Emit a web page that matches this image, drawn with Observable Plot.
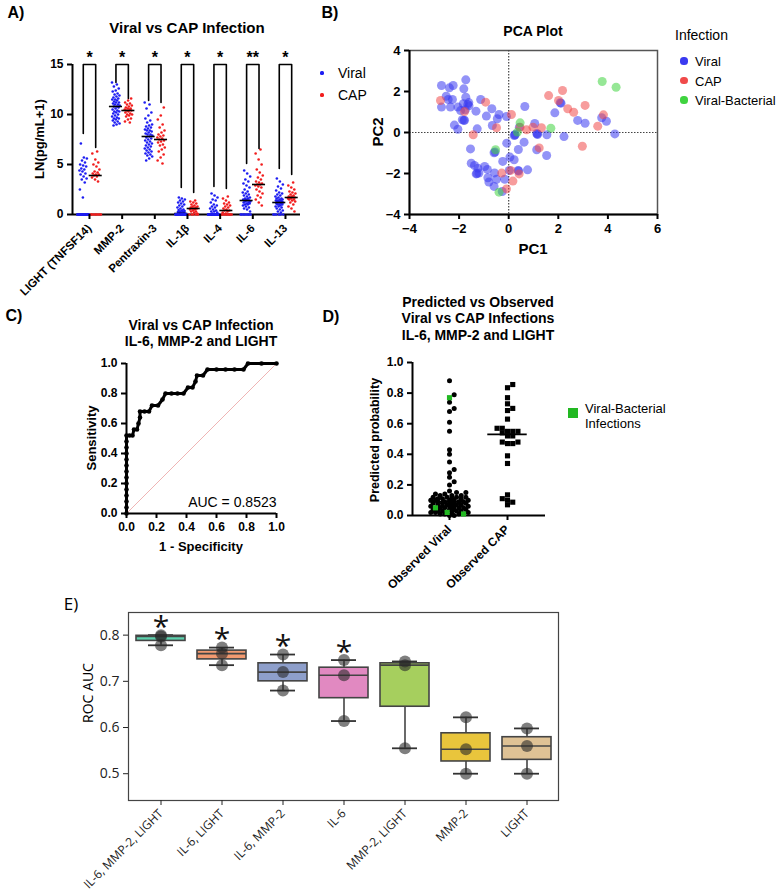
<!DOCTYPE html>
<html><head><meta charset="utf-8">
<script src="https://cdn.jsdelivr.net/npm/d3@7"></script>
<script src="https://cdn.jsdelivr.net/npm/@observablehq/plot@0.6"></script>
<style>
html,body{margin:0;padding:0;background:#fff;}
body{width:779px;height:894px;position:relative;overflow:hidden;font-family:"Liberation Sans",Arial,sans-serif;}
.box{position:absolute;}
.box svg{overflow:visible;}
.t{position:absolute;white-space:nowrap;color:#000;line-height:1;}
</style></head><body>
<script>
// ---------- Panel A data ----------
const cytokines = ["LIGHT (TNFSF14)","MMP-2","Pentraxin-3","IL-1β","IL-4","IL-6","IL-13"];
const viral_LIGHT = [0,0,0,0,0,0,0,0,0,0,0,0,0,0,0,0,0,0,0,0,0,0,0,0,0,1.7,2.5,3.2,3.5,3.6,3.8,4.0,4.1,4.3,4.4,4.5,4.6,4.8,4.9,5.0,5.2,5.4,5.6,5.7,7.1];
const cap_LIGHT = [0,0,0,0,0,0,0,0,3.3,3.5,3.7,3.8,3.9,4.0,4.0,4.1,4.2,4.3,4.5,4.8,5.0,5.2,5.5,6.1,6.3];
const viral_MMP2 = [13.2,13.0,12.8,12.6,12.4,12.3,12.1,12.0,11.9,11.8,11.7,11.6,11.5,11.5,11.4,11.3,11.2,11.2,11.1,11.0,11.0,10.9,10.8,10.8,10.7,10.6,10.5,10.4,10.3,10.3,10.2,10.1,10.0,9.9,9.8,9.7,9.6,9.6,9.5,9.4,9.3,9.2,9.1,9.0,8.9];
const cap_MMP2 = [11.6,11.4,11.2,11.1,11.0,10.9,10.8,10.7,10.6,10.6,10.5,10.5,10.4,10.4,10.3,10.2,10.1,10.0,10.0,9.9,9.8,9.6,9.5,9.3,9.2];
const viral_PTX3 = [11.2,11.0,10.6,10.2,9.9,9.6,9.4,9.2,9.0,8.9,8.8,8.7,8.6,8.5,8.4,8.4,8.3,8.2,8.1,8.0,8.0,7.9,7.8,7.7,7.6,7.5,7.4,7.3,7.2,7.1,7.0,6.9,6.8,6.7,6.6,6.5,6.4,6.3,6.2,6.1,6.0,5.9,5.8,5.6,5.4];
const cap_PTX3 = [10.7,9.9,9.5,9.0,8.7,8.4,8.2,8.0,7.9,7.8,7.7,7.6,7.5,7.4,7.3,7.2,7.0,6.9,6.7,6.5,6.3,6.0,5.7,5.4,5.1];
const viral_IL1B = [0,0,0,0,0,0,0,0,0,0,0,0,0,0,0,0,0,0,0,0,0.05,0.1,0.1,0.15,0.2,0.2,0.25,0.3,0.3,0.35,0.4,0.45,0.5,0.6,0.7,0.8,0.9,1.0,1.1,1.2,1.3,1.4,1.5,1.6,1.7];
const cap_IL1B = [0,0,0,0,0,0.1,0.2,0.3,0.3,0.4,0.5,0.5,0.6,0.6,0.6,0.7,0.7,0.8,0.8,0.9,1.0,1.1,1.2,1.3,1.4];
const viral_IL4 = [0,0,0,0,0,0,0,0,0,0,0,0,0,0,0,0,0,0,0,0,0,0,0,0,0,0,0,0,0.1,0.2,0.3,0.3,0.4,0.5,0.6,0.7,0.8,0.9,1.0,1.2,1.4,1.5,1.7,1.9,2.1];
const cap_IL4 = [0,0,0,0,0,0,0,0,0,0.1,0.2,0.3,0.4,0.4,0.5,0.6,0.7,0.8,0.9,1.0,1.1,1.2,1.4,1.6,1.8];
const viral_IL6 = [0,0,0,0,0,0,0,0,0.3,0.5,0.6,0.7,0.8,0.9,1.0,1.0,1.1,1.1,1.2,1.2,1.3,1.3,1.4,1.4,1.4,1.5,1.5,1.6,1.6,1.7,1.8,1.9,2.0,2.1,2.2,2.3,2.5,2.7,2.9,3.1,3.3,3.5,3.8,4.1,4.4];
const cap_IL6 = [0.9,1.2,1.5,1.7,1.9,2.1,2.3,2.5,2.7,2.8,2.9,3.0,3.0,3.1,3.2,3.3,3.5,3.7,3.9,4.2,4.5,5.0,5.5,6.1,6.5];
const viral_IL13 = [0,0,0,0,0,0,0.2,0.3,0.4,0.5,0.6,0.7,0.8,0.8,0.9,1.0,1.0,1.0,1.1,1.1,1.2,1.2,1.2,1.3,1.3,1.3,1.4,1.4,1.4,1.5,1.5,1.6,1.6,1.7,1.8,1.9,2.0,2.1,2.2,2.4,2.6,2.8,3.0,3.3,3.6];
const cap_IL13 = [0.3,0.6,0.8,1.0,1.2,1.3,1.4,1.5,1.5,1.6,1.6,1.7,1.7,1.7,1.8,1.8,1.9,2.0,2.1,2.2,2.3,2.5,2.7,2.9,3.2];
const bracketViralTop = [8.1,13.2,11.4,2.7,2.8,5.1,4.6];
const bracketCapTop = [6.7,11.6,11.2,2.2,2.6,6.6,4.0];
const sigA = ["*","*","*","*","*","**","*"];

// ---------- Panel B data ----------
const pcaViralX = [-2.71,-2.39,-2.24,-1.73,-1.81,-2.52,-2.44,-2.27,-1.73,-2.71,-2.35,-2.05,-1.83,-1.65,-1.61,-1.94,-1.75,-1.32,-1.13,-0.68,-0.39,-0.90,-0.46,-0.09,-2.19,-2.05,-1.87,-1.81,-1.27,-0.66,0.65,1.86,2.11,2.78,3.08,3.75,3.94,4.28,2.23,1.54,1.16,1.05,0.22,0.43,-1.54,-0.59,-0.08,0.05,0.22,0.39,0.62,1.13,1.53,-1.51,-1.38,-1.24,-0.97,-0.86,-1.31,-1.20,-0.57,-0.24,-0.84,-0.80,-0.59,-0.49,-0.16,-0.26,0.38,0.76,1.16,0.26,0.25,1.13,-1.28,0.40,-1.78,-0.55,0.02,-1.60,2.08];
const pcaViralY = [2.29,2.18,2.29,2.57,2.13,1.77,1.61,1.61,1.72,1.24,1.24,1.24,1.40,1.37,1.46,1.07,1.11,1.04,1.61,1.16,0.88,0.80,0.67,0.78,0.36,0.16,0.62,0.59,0.18,0.34,1.27,0.96,1.43,0.59,0.45,0.72,0.55,-0.07,-0.20,-0.11,-0.10,0.44,-0.15,0.26,-0.80,-0.99,-0.52,-1.20,-1.33,-0.83,-0.47,-0.84,-1.12,-1.50,-1.61,-1.74,-1.66,-1.80,-2.02,-1.98,-1.97,-1.41,-2.21,-2.42,-2.63,-2.28,-2.28,-2.88,-1.85,-1.82,-0.07,-0.10,-0.12,-0.05,-2.00,-1.88,0.60,-0.95,-1.85,1.30,1.45];
const pcaCapX = [-2.75,-1.78,-0.93,-0.49,-1.43,0.11,0.72,0.98,1.32,1.61,2.17,2.01,2.38,2.62,3.08,3.82,3.59,2.97,-0.28,0.08,0.17,-0.09,0.42,1.23,0.46];
const pcaCapY = [1.56,1.02,1.48,0.23,-0.11,0.88,0.13,0.26,0.23,1.80,2.05,1.56,1.16,0.99,1.32,0.86,0.31,-0.67,-1.98,-1.85,-2.37,-2.75,-2.02,-0.75,0.26];
const pcaVbX = [3.77,4.33,0.46,1.70,-0.53,-0.39,0.35];
const pcaVbY = [2.49,2.21,0.47,0.21,-0.84,-2.91,0.02];

// ---------- Panel C data ----------
const rocFpr = [0,0,0,0,0,0,0,0,0,0,0,0,0,0,0.02,0.04,0.05,0.07,0.08,0.09,0.09,0.12,0.15,0.17,0.21,0.24,0.26,0.30,0.34,0.38,0.41,0.44,0.46,0.47,0.51,0.54,0.60,0.66,0.72,0.78,0.81,0.90,1.0];
const rocTpr = [0,0.04,0.08,0.12,0.16,0.20,0.24,0.28,0.32,0.36,0.40,0.44,0.48,0.52,0.52,0.52,0.56,0.56,0.60,0.64,0.68,0.68,0.68,0.72,0.72,0.76,0.80,0.80,0.80,0.80,0.84,0.84,0.88,0.92,0.92,0.96,0.96,0.96,0.96,0.96,1.0,1.0,1.0];
const chanceX = [0,1];
const chanceY = [0,1];
const unitTicks = [0,0.2,0.4,0.6,0.8,1.0];
const aucLabel = "AUC = 0.8523";

// ---------- Panel D data ----------
const dGroups = ["Observed Viral","Observed CAP"];
const dViral = [0.88,0.79,0.74,0.70,0.68,0.61,0.55,0.43,0.40,0.35,0.30,0.28,0.25,0.22,0.20,0.16,0.15,0.15,
  0.14,0.14,0.13,0.13,0.13,0.12,0.12,0.12,0.12,0.11,0.11,0.11,0.11,0.10,0.10,0.10,0.10,0.10,0.09,0.09,0.09,0.09,0.09,
  0.08,0.08,0.08,0.08,0.08,0.07,0.07,0.07,0.07,0.07,0.06,0.06,0.06,0.06,0.06,0.05,0.05,0.05,0.05,0.05,0.04,0.04,0.04,0.04,
  0.03,0.03,0.03,0.03,0.02,0.02,0.02,0.02,0.01,0.01,0.01,0.00,0.00];
const dViralBacterial = [0.77,0.05,0.02,0.01];
const dCap = [0.856,0.835,0.77,0.73,0.70,0.686,0.63,0.57,0.57,0.55,0.55,0.55,0.54,0.52,0.52,0.48,0.48,0.47,0.47,0.39,0.34,0.135,0.11,0.10,0.087,0.07];
const probTicks = [0,0.2,0.4,0.6,0.8,1.0];

// ---------- Panel E data ----------
const combos = ["IL-6, MMP-2, LIGHT","IL-6, LIGHT","IL-6, MMP-2","IL-6","MMP-2, LIGHT","MMP-2","LIGHT"];
const aucRuns = [[0.800,0.797,0.778],[0.773,0.760,0.735],[0.758,0.720,0.680],[0.746,0.713,0.614],[0.743,0.735,0.555],[0.622,0.553,0.500],[0.598,0.560,0.500]];
const boxColors = ["#5dd0ad","#f39a70","#8e9fcb","#e189c1","#a6cf5e","#e9c53c","#dfc295"];
const sigE = ["*","*","*","*","","",""];
const aucTicks = [0.5,0.6,0.7,0.8];

// ---------- helpers ----------
const ARIAL = "'Liberation Sans', Arial, sans-serif";
const OPEN = "'Open Sans', 'DejaVu Sans', sans-serif";
function place(node, left, top){
  const d = document.createElement("div"); d.className = "box";
  d.style.left = left + "px"; d.style.top = top + "px";
  d.appendChild(node); document.body.appendChild(d); return d;
}
function txt(s, x, y, o = {}){
  const d = document.createElement("div"); d.className = "t"; d.textContent = s;
  d.style.left = x + "px"; d.style.top = y + "px";
  d.style.fontSize = (o.size || 14) + "px";
  d.style.fontWeight = o.weight || "bold";
  d.style.fontFamily = o.family || ARIAL;
  const ax = o.ax === undefined ? -50 : o.ax;
  d.style.transform = `translate(${ax}%,-50%)` + (o.rot ? ` rotate(${o.rot}deg)` : "");
  document.body.appendChild(d); return d;
}
function dotKey(x, y, color, r){
  const d = document.createElement("div");
  Object.assign(d.style, {position:"absolute", left:(x - r) + "px", top:(y - r) + "px", width:(2*r) + "px", height:(2*r) + "px", borderRadius:"50%", background:color});
  document.body.appendChild(d);
}
// deterministic beeswarm layout (pixel offsets)
function swarm(vals, pxPerUnit, r, maxW){
  const idx = d3.range(vals.length).sort((a,b)=>vals[a]-vals[b]);
  const placed = [], off = new Array(vals.length);
  const step = r*0.9, minD = r*1.5;
  for (const i of idx){
    const y = vals[i]*pxPerUnit; let best = 0, bestD = -1;
    for (let k = 0; ; k++){
      const o = k === 0 ? 0 : (k % 2 ? 1 : -1) * Math.ceil(k/2) * step;
      if (Math.abs(o) > maxW) break;
      let md = Infinity;
      for (const p of placed){ const dd = Math.hypot(p[0]-o, p[1]-y); if (dd < md) md = dd; }
      if (md >= minD){ best = o; bestD = Infinity; break; }
      if (md > bestD){ bestD = md; best = o; }
    }
    off[i] = best; placed.push([best, y]);
  }
  return off;
}
const golden = k => ((k*0.61803398875) % 1) - 0.5;

// ================= Panel A =================
const viralA = [viral_LIGHT, viral_MMP2, viral_PTX3, viral_IL1B, viral_IL4, viral_IL6, viral_IL13];
const capA = [cap_LIGHT, cap_MMP2, cap_PTX3, cap_IL1B, cap_IL4, cap_IL6, cap_IL13];
const offA = 0.19;
const rowsViral = [], rowsCap = [], medA = [], brA = [];
cytokines.forEach((c,i)=>{
  viralA[i].forEach((v,k)=>rowsViral.push({x: i - offA + golden(k)*(v === 0 ? 0.36 : 0.24), v}));
  capA[i].forEach((v,k)=>rowsCap.push({x: i + offA + golden(k+3)*(v === 0 ? 0.36 : 0.24), v}));
  medA.push({x: i - offA, m: d3.median(viralA[i])});
  medA.push({x: i + offA, m: d3.median(capA[i])});
  brA.push({i, x: i - offA, y: bracketViralTop[i]}, {i, x: i - offA, y: 15}, {i, x: i + offA, y: 15}, {i, x: i + offA, y: bracketCapTop[i]});
});
const nz = d => d.v !== 0, zr = d => d.v === 0;
const plotA = Plot.plot({
  width: 310, height: 300, marginLeft: 72, marginRight: 10, marginTop: 64, marginBottom: 86,
  x: {domain: [-0.52, 6.46]}, y: {domain: [0, 15]},
  style: {fontFamily: ARIAL, fontWeight: "bold", fontSize: "12px", background: "transparent"},
  marks: [
    Plot.ruleY([0], {strokeWidth: 2}),
    Plot.ruleX([-0.52], {y1: 0, y2: 15, strokeWidth: 2}),
    Plot.dot(rowsViral.filter(nz), {x: "x", y: "v", r: 1.3, fill: "#1d1df2"}),
    Plot.dot(rowsCap.filter(nz), {x: "x", y: "v", r: 1.3, fill: "#f21d1d"}),
    Plot.ruleY(medA, {y: "m", x1: d => d.x - 0.2, x2: d => d.x + 0.2, stroke: "#000", strokeWidth: 1.6}),
    Plot.dot(rowsViral.filter(zr), {x: "x", y: "v", r: 1.3, fill: "#1d1df2"}),
    Plot.dot(rowsCap.filter(zr), {x: "x", y: "v", r: 1.3, fill: "#f21d1d"}),
    Plot.line(brA, {x: "x", y: "y", z: "i", stroke: "#000", strokeWidth: 1.6}),
    Plot.text(cytokines, {x: (d,i) => i, y: () => 15, text: (d,i) => sigA[i], dy: -7, fontSize: 16, fontWeight: "bold", lineAnchor: "middle"}),
    Plot.axisY({ticks: [0,5,10,15], tickSize: 5, strokeWidth: 2, label: null, fontSize: 12}),
    Plot.axisX({ticks: [0,1,2,3,4,5,6], tickFormat: i => cytokines[i], tickRotate: -45, tickSize: 5, strokeWidth: 2, label: null, fontSize: 11.5})
  ]
});
place(plotA, 0, 0);
txt("A)", 16, 13, {size: 16});
txt("Viral vs CAP Infection", 187, 27, {size: 15});
txt("LN(pg/mL+1)", 39, 139, {size: 13, rot: -90});
dotKey(322, 73, "#1d1df2", 1.6); txt("Viral", 338, 73, {size: 14, weight: "normal", ax: 0});
dotKey(322, 95, "#f21d1d", 1.6); txt("CAP", 338, 95, {size: 14, weight: "normal", ax: 0});

// ================= Panel B =================
const pcaRows = [
  ...pcaViralX.map((x,i)=>({x, y: pcaViralY[i], c: "#3a3af0"})),
  ...pcaCapX.map((x,i)=>({x, y: pcaCapY[i], c: "#f04a4a"})),
  ...pcaVbX.map((x,i)=>({x, y: pcaVbY[i], c: "#3fd33f"}))
];
const plotB = Plot.plot({
  width: 420, height: 260, marginLeft: 149, marginRight: 23, marginTop: 50, marginBottom: 46,
  x: {domain: [-4, 6]}, y: {domain: [-4, 4]}, color: {type: "identity"},
  style: {fontFamily: ARIAL, fontWeight: "bold", fontSize: "13px", background: "transparent"},
  marks: [
    Plot.frame({stroke: "#555", strokeWidth: 1.5}),
    Plot.ruleX([0], {stroke: "#444", strokeWidth: 1.2, strokeDasharray: "1.5,1.5"}),
    Plot.ruleY([0], {stroke: "#444", strokeWidth: 1.2, strokeDasharray: "1.5,1.5"}),
    Plot.dot(pcaRows, {x: "x", y: "y", r: 4.5, fill: "c", fillOpacity: 0.55}),
    Plot.ruleY([-4], {strokeWidth: 2}),
    Plot.ruleX([-4], {strokeWidth: 2}),
    Plot.axisX({ticks: [-4,-2,0,2,4,6], tickSize: 5, strokeWidth: 2, label: null, fontSize: 13}),
    Plot.axisY({ticks: [-4,-2,0,2,4], tickSize: 5, strokeWidth: 2, label: null, fontSize: 13})
  ]
});
place(plotB, 260, 0);
txt("B)", 330, 13, {size: 16});
txt("PCA Plot", 533, 31, {size: 14});
txt("PC2", 377, 132, {size: 15, rot: -90});
txt("PC1", 533, 248, {size: 15});
txt("Infection", 675, 35, {size: 14, weight: "normal", ax: 0});
const legB = [["Viral", "#3a3af0"], ["CAP", "#f04a4a"], ["Viral-Bacterial", "#3fd33f"]];
legB.forEach(([s,c],k)=>{ const y = 61 + k*19.5; dotKey(684, y, c, 3.6); txt(s, 695, y, {size: 13, weight: "normal", ax: 0}); });

// ================= Panel C =================
const rocRows = rocFpr.map((f,i)=>({f, t: rocTpr[i]}));
const plotC = Plot.plot({
  width: 300, height: 260, marginLeft: 126, marginRight: 24, marginTop: 63, marginBottom: 47,
  x: {domain: [0, 1]}, y: {domain: [0, 1]},
  style: {fontFamily: ARIAL, fontWeight: "bold", fontSize: "12px", background: "transparent"},
  marks: [
    Plot.line(chanceX.map((x,i)=>({x, y: chanceY[i]})), {x: "x", y: "y", stroke: "#efb4b4", strokeWidth: 1}),
    Plot.line(rocRows, {x: "f", y: "t", stroke: "#000", strokeWidth: 3}),
    Plot.dot(rocRows, {x: "f", y: "t", r: 2.3, fill: "#000"}),
    Plot.text([aucLabel], {x: () => 1, y: () => 0.073, text: d => d, textAnchor: "end", fontSize: 14, fontWeight: "normal"}),
    Plot.ruleY([0], {strokeWidth: 2}),
    Plot.ruleX([0], {strokeWidth: 2}),
    Plot.axisX({ticks: unitTicks, tickFormat: d3.format(".1f"), tickSize: 5, strokeWidth: 2, label: null, fontSize: 12}),
    Plot.axisY({ticks: unitTicks, tickFormat: d3.format(".1f"), tickSize: 5, strokeWidth: 2, label: null, fontSize: 12})
  ]
});
place(plotC, 0, 300);
txt("C)", 14, 316, {size: 16});
txt("Viral vs CAP Infection", 201, 325, {size: 14});
txt("IL-6, MMP-2 and LIGHT", 201, 341, {size: 14});
txt("Sensitivity", 91, 438, {size: 13, rot: -90});
txt("1 - Specificity", 201, 546, {size: 13});

// ================= Panel D =================
const pxUnitX = 58, pxUnitY = 153;
const viralAll = dViral.concat(dViralBacterial);
const offV = swarm(viralAll, pxUnitY, 2.6, 20);
const offC = swarm(dCap, pxUnitY, 2.9, 14);
const dViralRows = dViral.map((v,i)=>({x: 0 + offV[i]/pxUnitX, v}));
const dVBRows = dViralBacterial.map((v,i)=>({x: 0 + offV[dViral.length + i]/pxUnitX, v}));
const dCapRows = dCap.map((v,i)=>({x: 1 + offC[i]/pxUnitX, v}));
const dMed = [{x: 0, m: d3.median(viralAll)}, {x: 1, m: d3.median(dCap)}];
const plotD = Plot.plot({
  width: 260, height: 260, marginLeft: 112, marginRight: 15, marginTop: 62, marginBottom: 45,
  x: {domain: [-0.638, 1.655]}, y: {domain: [0, 1]},
  style: {fontFamily: ARIAL, fontWeight: "bold", fontSize: "12px", background: "transparent"},
  marks: [
    Plot.ruleY([0], {strokeWidth: 2}),
    Plot.ruleX([-0.638], {strokeWidth: 2}),
    Plot.dot(dViralRows, {x: "x", y: "v", r: 2.5, fill: "#000"}),
    Plot.dot(dCapRows, {x: "x", y: "v", r: 2.9, symbol: "square", fill: "#000"}),
    Plot.dot(dVBRows, {x: "x", y: "v", r: 2.9, symbol: "square", fill: "#22b822"}),
    Plot.ruleY(dMed, {y: "m", x1: d => d.x - 0.34, x2: d => d.x + 0.34, stroke: "#000", strokeWidth: 1.6}),
    Plot.axisY({ticks: probTicks, tickFormat: d3.format(".1f"), tickSize: 5, strokeWidth: 2, label: null, fontSize: 12}),
    Plot.axisX({ticks: [0, 1], tickFormat: i => dGroups[i], tickRotate: -45, tickSize: 5, strokeWidth: 2, label: null, fontSize: 12})
  ]
});
place(plotD, 300, 300);
txt("D)", 331, 317, {size: 16});
txt("Predicted vs Observed", 478, 302, {size: 14});
txt("Viral vs CAP Infections", 478, 318, {size: 14});
txt("IL-6, MMP-2 and LIGHT", 478, 335, {size: 14});
txt("Predicted probability", 375, 440, {size: 12.5, rot: -90});
(function(){ const s = document.createElement("div"); Object.assign(s.style, {position:"absolute", left:"568px", top:"408px", width:"10px", height:"10px", background:"#22b822"}); document.body.appendChild(s); })();
txt("Viral-Bacterial", 585, 408, {size: 13, weight: "normal", ax: 0});
txt("Infections", 585, 423, {size: 13, weight: "normal", ax: 0});

// ================= Panel E =================
const statsE = combos.map((c,i)=>{
  const v = aucRuns[i].slice().sort(d3.ascending);
  return {c, q1: d3.quantile(v, 0.25), q2: d3.quantile(v, 0.5), q3: d3.quantile(v, 0.75), lo: v[0], hi: v[v.length-1], col: boxColors[i], sig: sigE[i]};
});
const ptsE = combos.flatMap((c,i)=>aucRuns[i].map(v=>({c, v})));
const plotE = Plot.plot({
  width: 779, height: 304, marginLeft: 128, marginRight: 221, marginTop: 22, marginBottom: 94,
  x: {type: "band", domain: combos, padding: 0}, y: {domain: [0.442, 0.849]}, color: {type: "identity"},
  style: {fontFamily: OPEN, fontSize: "14px", background: "transparent", color: "#222"},
  marks: [
    Plot.ruleX(statsE, {x: "c", y1: "lo", y2: "q1", stroke: "#444", strokeWidth: 1.6}),
    Plot.ruleX(statsE, {x: "c", y1: "q3", y2: "hi", stroke: "#444", strokeWidth: 1.6}),
    Plot.tickY(statsE, {x: "c", y: "lo", insetLeft: 18, insetRight: 18, stroke: "#333", strokeWidth: 1.8}),
    Plot.tickY(statsE, {x: "c", y: "hi", insetLeft: 18, insetRight: 18, stroke: "#333", strokeWidth: 1.8}),
    Plot.barY(statsE, {x: "c", y1: "q1", y2: "q3", fill: "col", stroke: "#444", strokeWidth: 1.6, insetLeft: 6, insetRight: 6}),
    Plot.tickY(statsE, {x: "c", y: "q2", insetLeft: 6, insetRight: 6, stroke: "#444", strokeWidth: 1.6}),
    Plot.dot(ptsE, {x: "c", y: "v", r: 6, fill: "#2a2a2a", fillOpacity: 0.6}),
    Plot.text(statsE, {x: "c", y: "hi", text: "sig", dy: -8, fontSize: 30, lineAnchor: "middle", fill: "#111"}),
    Plot.frame({stroke: "#444", strokeWidth: 1.2}),
    Plot.axisX({tickRotate: -45, tickSize: 5, tickPadding: 6, label: null, fontSize: 12}),
    Plot.axisY({ticks: aucTicks, tickFormat: d3.format(".1f"), tickSize: 5, label: null, fontSize: 14})
  ]
});
place(plotE, 0, 590);
txt("E)", 71, 603, {size: 17, weight: "normal", family: OPEN});
txt("ROC AUC", 88, 693, {size: 14, weight: "normal", family: OPEN, rot: -90});
</script>
</body></html>
